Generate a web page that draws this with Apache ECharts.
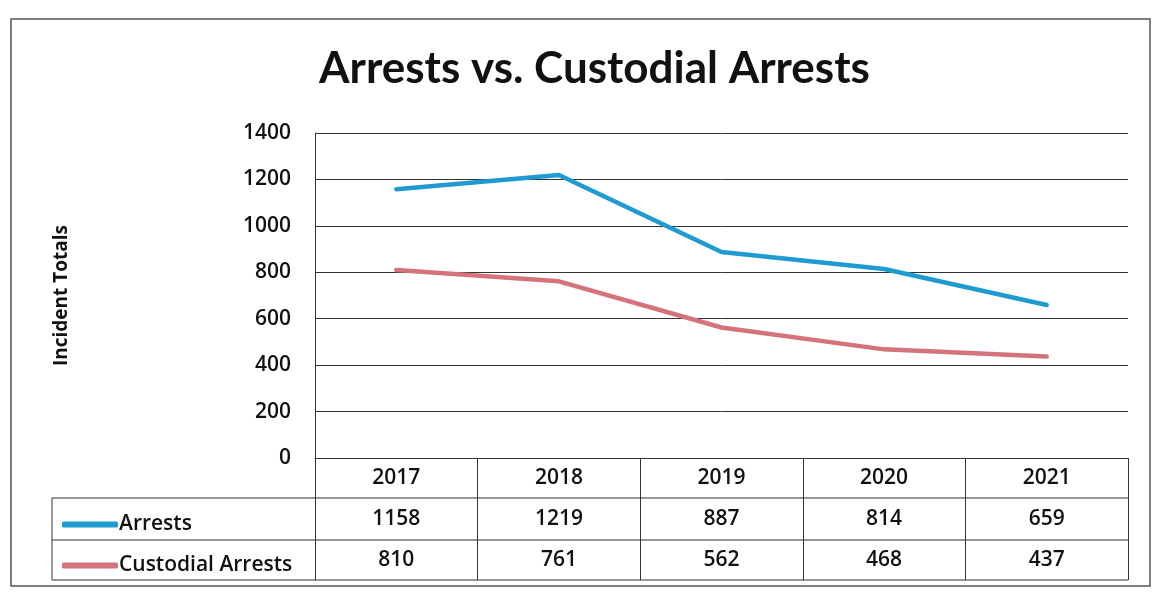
<!DOCTYPE html>
<html>
<head>
<meta charset="utf-8">
<title>Arrests vs. Custodial Arrests</title>
<script src="https://cdn.jsdelivr.net/npm/echarts@6/dist/echarts.min.js"></script>
<style>
  html, body { margin: 0; padding: 0; background: #fff; }
  #chart { width: 1155px; height: 598px; }
</style>
</head>
<body>
<div id="chart"></div>
<script>
// Yearly totals
const years = ['2017', '2018', '2019', '2020', '2021'];
const arrests = [1158, 1219, 887, 814, 659];
const custodialArrests = [810, 761, 562, 468, 437];
const seriesNames = ['Arrests', 'Custodial Arrests'];
const yMin = 0, yMax = 1400, yStep = 200;

// Plot area and data-table geometry
const W = 1155, H = 598;
const gridLeft = 315, gridRight = 27, gridTop = 133, gridHeight = 325;
const axisY = gridTop + gridHeight;
const rowH = 41;
const tableLeft = 52;
const ink = '#333';
const textColor = '#111';
const font = '"Open Sans", Lato, sans-serif';
const labelWeight = 600;

const chart = echarts.init(document.getElementById('chart'), null, { renderer: 'canvas' });

const tableLines = [
  // row separators below the year header and between the two series rows
  axisY + rowH - 1,
  axisY + rowH * 2,
  axisY + rowH * 3 - 1
].map(y => ({
  type: 'line',
  shape: { x1: tableLeft, y1: y, x2: W - gridRight, y2: y },
  style: { stroke: ink, lineWidth: 1 },
  silent: true
}));

chart.setOption({
  animation: false,
  backgroundColor: '#fff',
  title: {
    text: 'Arrests vs. Custodial Arrests',
    left: 314,
    top: 42,
    textStyle: { fontFamily: 'Lato, "Open Sans", sans-serif', fontSize: 44, fontWeight: 'bold', color: textColor }
  },
  legend: {
    orient: 'vertical',
    left: tableLeft + 5,
    top: axisY + rowH,
    itemGap: 0,
    itemWidth: 56,
    itemHeight: 6,
    icon: 'roundRect',
    data: seriesNames,
    textStyle: { fontFamily: font, fontSize: 21, fontWeight: labelWeight, color: textColor, lineHeight: rowH, padding: [0, 0, 0, -4] },
    selectedMode: false
  },
  grid: { left: gridLeft, right: gridRight, top: gridTop, height: gridHeight },
  xAxis: {
    type: 'category',
    data: years,
    boundaryGap: true,
    axisLine: { show: true, lineStyle: { color: ink, width: 1 } },
    axisTick: { show: true, length: rowH * 3 - 1, lineStyle: { color: ink, width: 1 } },
    axisLabel: {
      margin: 0,
      interval: 0,
      formatter: (v, i) => `{c|${v}}\n{c|${arrests[i]}}\n{c|${custodialArrests[i]}}`,
      rich: {
        c: { fontFamily: font, fontSize: 21, fontWeight: labelWeight, color: textColor, lineHeight: rowH, align: 'center' }
      }
    },
    splitLine: { show: false }
  },
  yAxis: {
    type: 'value',
    min: yMin,
    max: yMax,
    interval: yStep,
    name: 'Incident Totals',
    nameLocation: 'middle',
    nameRotate: 90,
    nameGap: 244,
    nameTextStyle: { fontFamily: font, fontSize: 19, fontWeight: 'bold', color: textColor },
    axisLine: { show: true, lineStyle: { color: ink, width: 1 } },
    axisTick: { show: false },
    axisLabel: {
      margin: 24,
      fontFamily: font,
      fontSize: 21,
      fontWeight: labelWeight,
      color: textColor,
      formatter: v => String(v)
    },
    splitLine: { show: true, lineStyle: { color: ink, width: 1 } }
  },
  series: [
    {
      name: seriesNames[0],
      type: 'line',
      data: arrests,
      showSymbol: false,
      symbol: 'none',
      itemStyle: { color: '#1f9bd1' },
      lineStyle: { color: '#1f9bd1', width: 4.5, cap: 'round', join: 'round' }
    },
    {
      name: seriesNames[1],
      type: 'line',
      data: custodialArrests,
      showSymbol: false,
      symbol: 'none',
      itemStyle: { color: '#d4737b' },
      lineStyle: { color: '#d4737b', width: 4.5, cap: 'round', join: 'round' }
    }
  ],
  graphic: [
    // outer chart frame
    {
      type: 'rect',
      shape: { x: 11, y: 19, width: 1139, height: 567 },
      style: { fill: 'none', stroke: '#555', lineWidth: 1.5 },
      silent: true
    },
    // left edge of the legend cells
    {
      type: 'line',
      shape: { x1: tableLeft, y1: axisY + rowH - 1, x2: tableLeft, y2: axisY + rowH * 3 - 1 },
      style: { stroke: ink, lineWidth: 1 },
      silent: true
    },
    ...tableLines
  ]
});
</script>
</body>
</html>
